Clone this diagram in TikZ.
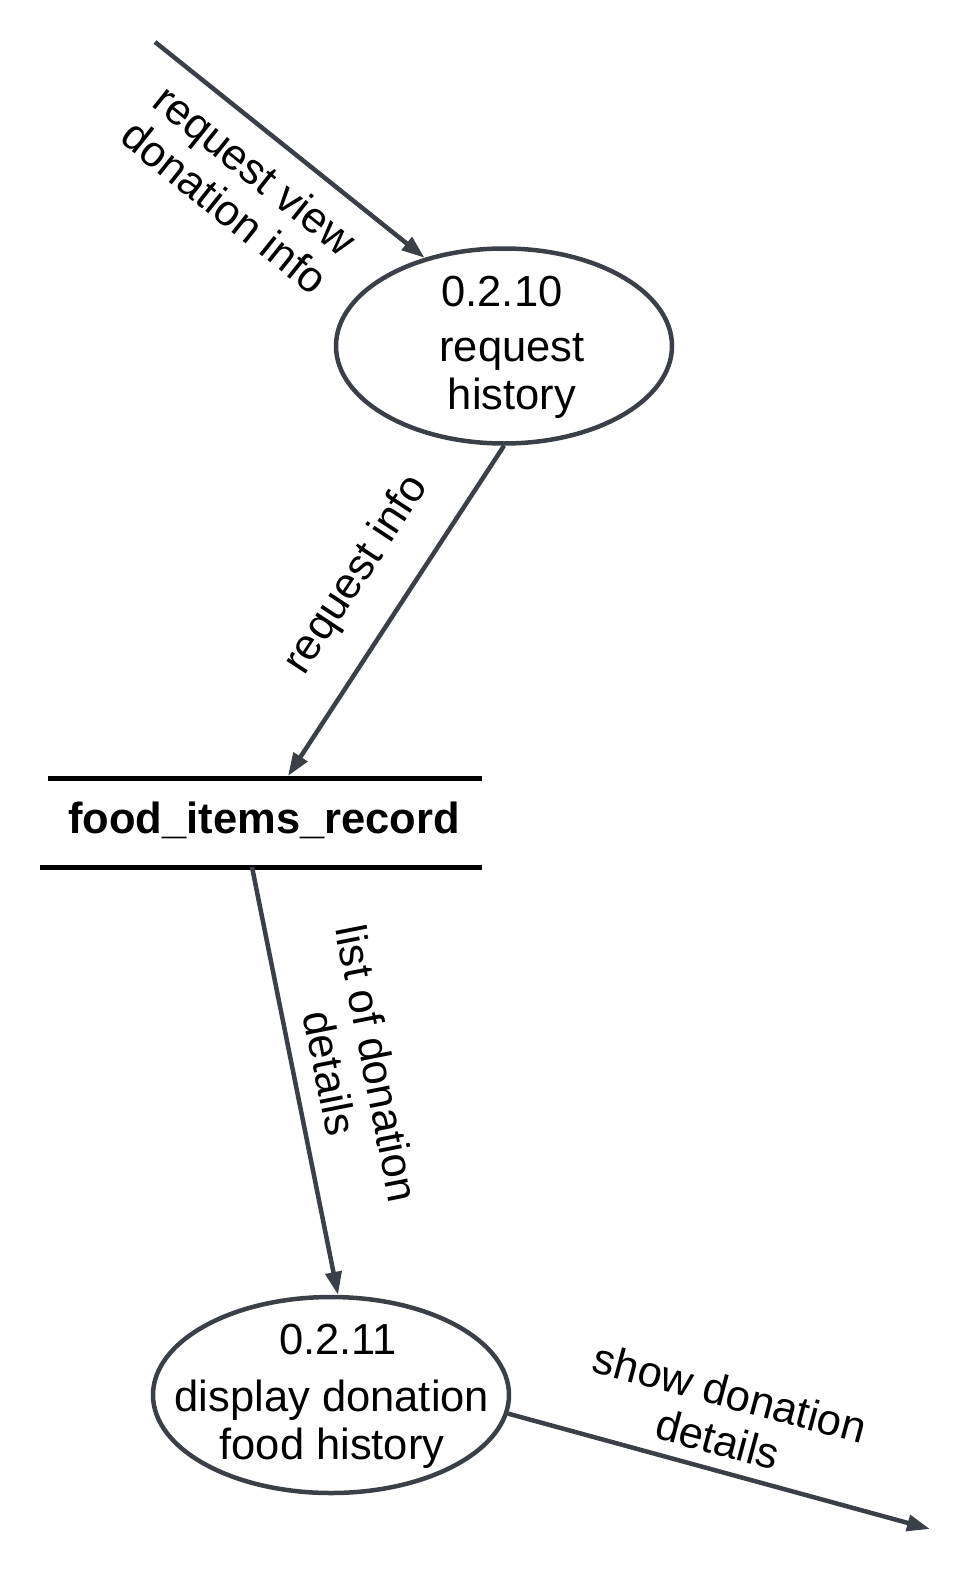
\documentclass[tikz,border=0pt]{standalone}
\usepackage{fontspec}
\setmainfont{Liberation Sans}
\usetikzlibrary{arrows.meta,shapes.geometric}
\definecolor{linec}{RGB}{59,64,72}
\begin{document}
\begin{tikzpicture}[x=1pt,y=-1pt,
  proc/.style={ellipse,draw=linec,line width=4.5pt,inner sep=0pt},
  txt/.style={font=\fontsize{43.5}{48}\selectfont,align=center,inner sep=0pt,text=black},
  flow/.style={draw=linec,line width=4.5pt,-{Triangle[length=23pt,width=16pt]}},
  storeline/.style={draw=black,line width=5pt}]
\useasboundingbox (0,0) rectangle (969,1571);
% processes
\node[proc,minimum width=336pt,minimum height=195pt] (p1) at (504,346) {};
\node[proc,minimum width=356pt,minimum height=196pt] (p2) at (331,1395) {};
\node[txt] (t1) at (512,347) {0.2.10\hspace*{20pt}\\[7pt]request\\history};
\node[txt] (t2) at (332,1396) {\hspace*{12pt}0.2.11\\[9pt]display donation\\food history};
% data store
\node[txt,font=\fontsize{43.5}{48}\selectfont\bfseries] (ds) at (264,820) {food\_items\_record};
\draw[storeline] (48,778) -- (482,778);
\draw[storeline] (40,867) -- (482,867);
\coordinate (dsin) at (288,776);
\coordinate (dsout) at (252,867);
% free ends
\coordinate (src) at (155,42);
\coordinate (sink) at (930,1529);
% flows
\draw[flow] (src) -- (p1.132);
\draw[flow] (p1.south) -- (dsin);
\draw[flow] (dsout) -- (p2.86);
\draw[flow] (p2.-6.5) -- (sink);
% labels
\node[txt,rotate=-38.7] (l1) at (240,188) {request view\\donation info};
\node[txt,rotate=56.7] (l2) at (357,575) {request info};
\node[txt,rotate=-78.8] (l3) at (354,1068) {list of donation\\details};
\node[txt,rotate=-15] (l4) at (724,1416) {show donation\\details};
\end{tikzpicture}
\end{document}
